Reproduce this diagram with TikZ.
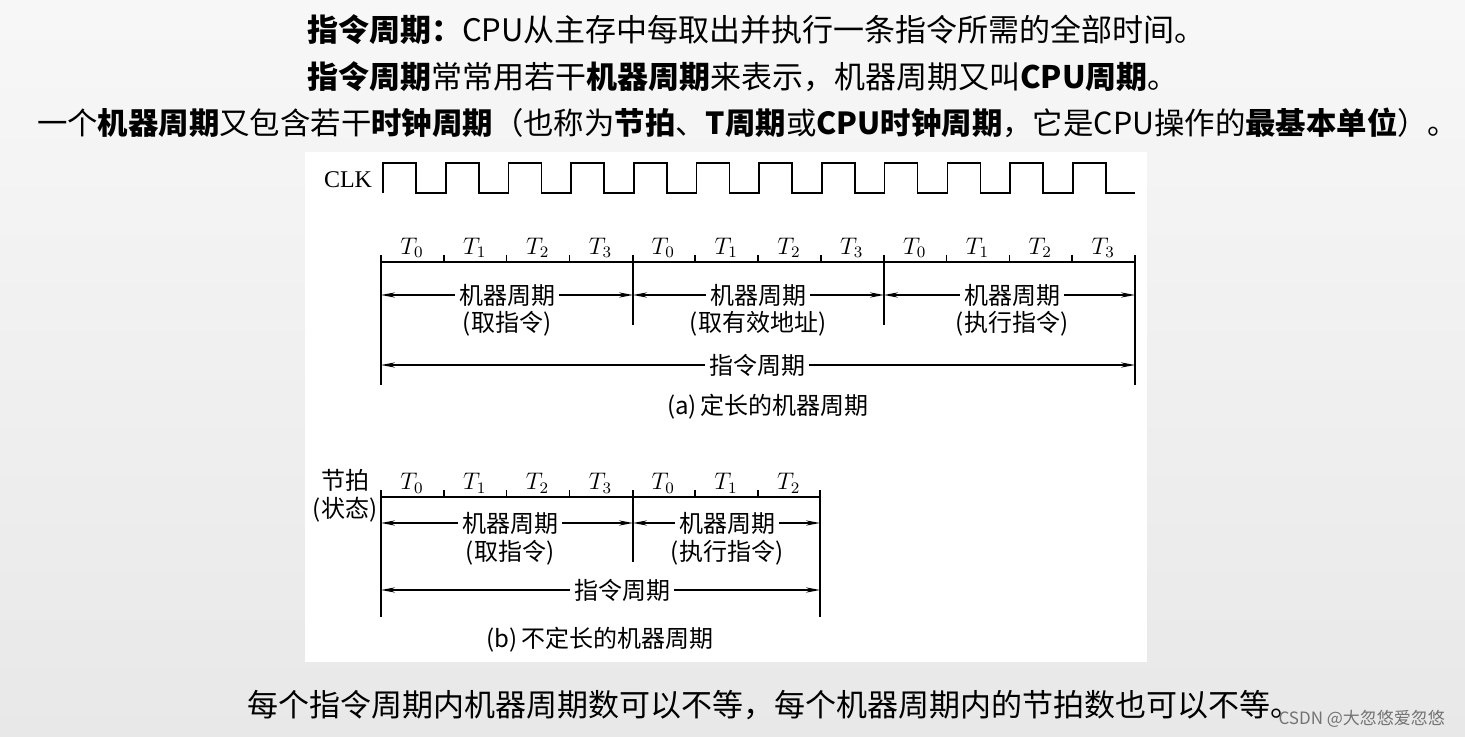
\documentclass[tikz,border=0pt]{standalone}
\usepackage{fontspec}
\setmainfont{Liberation Serif}
\newfontfamily\cjk{Noto Sans CJK SC}
\usetikzlibrary{arrows.meta}
\begin{document}
\begin{tikzpicture}[x={(0.5pt,0)},y={(0,-0.5pt)},
  ln/.style={line width=0.8pt},
  arr/.style={ln,{Stealth[length=7pt,width=2.6pt]}-{Stealth[length=7pt,width=2.6pt]}},
  lab/.style={font=\cjk\fontsize{12}{13}\selectfont,fill=white,inner sep=2pt},
  tl/.style={font=\fontsize{12}{13}\selectfont},
  head/.style={font=\cjk\fontsize{15.5}{17}\selectfont,anchor=west}]
\useasboundingbox (0,0) rectangle (1465,737);
\shade[top color=white!97!black,bottom color=white!91!black] (0,0) rectangle (1465,737);
\fill[white] (305,152) rectangle (1147,662);
% header
\node[head] (h1) at (300,30) {\textbf{指令周期：}CPU从主存中每取出并执行一条指令所需的全部时间。};
\node[head] (h2) at (300,77) {\textbf{指令周期}常常用若干\textbf{机器周期}来表示，机器周期又叫\textbf{CPU周期}。};
\node[head,font=\cjk\fontsize{15.2}{17}\selectfont] (h3) at (30,123) {一个\textbf{机器周期}又包含若干\textbf{时钟周期}（也称为\textbf{节拍}、\textbf{T周期}或\textbf{CPU时钟周期}，它是CPU操作的\textbf{最基本单位}）。};
\node[head] (h4) at (240,705) {每个指令周期内机器周期数可以不等，每个机器周期内的节拍数也可以不等。};
\node[font=\fontsize{8.5}{9}\selectfont\cjk,text=black!55,anchor=east] (wm) at (1452,719) {CSDN @大忽悠爱忽悠};
% CLK
\node[font=\fontsize{12}{13}\selectfont] (clk) at (348,180) {CLK};
\draw[ln] (383,193) \foreach \i in {0,...,11} {
  -- ({383+62.7*\i},163) -- ({416+62.7*\i},163) -- ({416+62.7*\i},193) -- ({445.7+62.7*\i},193)};
% (a)
\draw[ln] (381,262) -- (1135,262);
\draw[ln] (381,255) -- (381,385);
\draw[ln] (1135,255) -- (1135,385);
\draw[ln] (633,255) -- (633,325);
\draw[ln] (884,255) -- (884,325);
\foreach \k in {1,2,3,5,6,7,9,10,11} \draw[ln] ({381+62.83*\k},255) -- ({381+62.83*\k},262);
\foreach \k/\t in {0/0,1/1,2/2,3/3,4/0,5/1,6/2,7/3,8/0,9/1,10/2,11/3}
  \node[tl] (ta\k) at ({412+62.83*\k},248) {$T_{\t}$};
\draw[arr] (381,295) -- (633,295);
\draw[arr] (633,295) -- (884,295);
\draw[arr] (884,295) -- (1135,295);
\node[lab] (m1) at (507,295) {机器周期};
\node[lab] (m2) at (758,295) {机器周期};
\node[lab] (m3) at (1012,295) {机器周期};
\node[lab] (p1) at (507,324) {(取指令)};
\node[lab] (p2) at (758,324) {(取有效地址)};
\node[lab] (p3) at (1012,324) {(执行指令)};
\draw[arr] (381,365) -- (1135,365);
\node[lab] (ia) at (757,365) {指令周期};
\node[lab] (ca) at (768,407) {(a)\,定长的机器周期};
% (b)
\node[lab] (jp) at (345,480) {节拍};
\node[lab] (zt) at (345,510) {(状态)};
\draw[ln] (381,497) -- (820,497);
\draw[ln] (381,490) -- (381,617);
\draw[ln] (820,490) -- (820,617);
\draw[ln] (633,490) -- (633,562);
\foreach \k in {1,2,3,5,6} \draw[ln] ({381+62.8*\k},490) -- ({381+62.8*\k},497);
\foreach \k/\t in {0/0,1/1,2/2,3/3,4/0,5/1,6/2}
  \node[tl] (tb\k) at ({412+62.8*\k},483) {$T_{\t}$};
\draw[arr] (381,523) -- (633,523);
\draw[arr] (633,523) -- (820,523);
\node[lab] (mb1) at (510,523) {机器周期};
\node[lab] (mb2) at (727,523) {机器周期};
\node[lab] (pb1) at (510,553) {(取指令)};
\node[lab] (pb2) at (727,553) {(执行指令)};
\draw[arr] (381,590) -- (820,590);
\node[lab] (ib) at (622,590) {指令周期};
\node[lab] (cb) at (600,640) {(b)\,不定长的机器周期};
\end{tikzpicture}
\end{document}
